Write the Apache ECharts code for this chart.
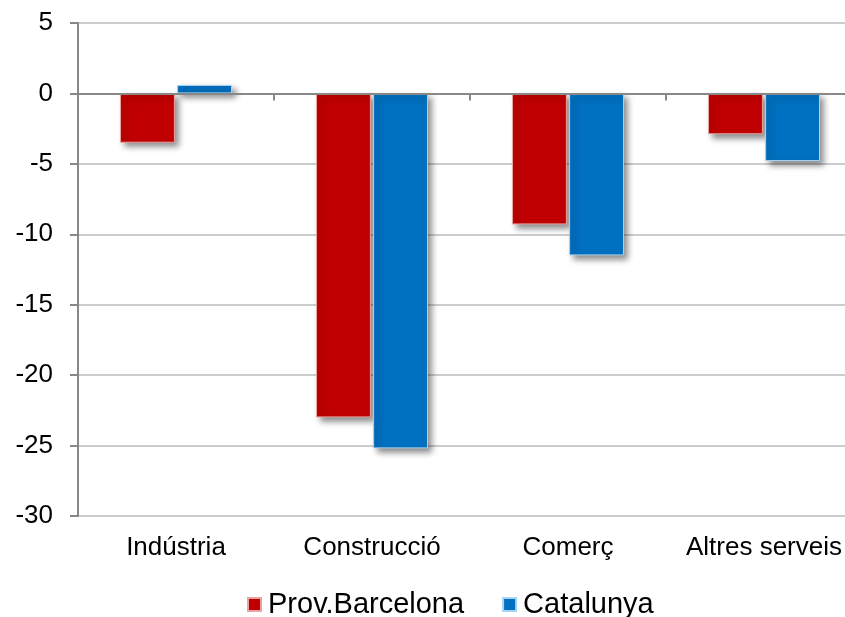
<!DOCTYPE html>
<html>
<head>
<meta charset="utf-8">
<script src="https://cdn.jsdelivr.net/npm/echarts@6/dist/echarts.min.js"></script>
<style>
html,body{margin:0;padding:0;background:#fff;overflow:hidden;width:845px;height:617px;}
#chart{width:870px;height:617px;}
</style>
</head>
<body>
<div id="chart"></div>
<script>
const categories = ['Indústria', 'Construcció', 'Comerç', 'Altres serveis'];
const provBarcelona = [-3.5, -23.0, -9.3, -2.9];
const catalunya = [0.6, -25.2, -11.5, -4.8];
const seriesNames = ['Prov.Barcelona', 'Catalunya'];
const yTicks = { min: -30, max: 5, interval: 5 };

const FONT = '"Liberation Sans", Arial, sans-serif';
const chart = echarts.init(document.getElementById('chart'), null, { renderer: 'canvas' });

function barStyle(color, border) {
  return {
    color: color,
    borderColor: border,
    borderWidth: 1,
    shadowColor: 'rgba(0,0,0,0.45)',
    shadowBlur: 6,
    shadowOffsetX: 4,
    shadowOffsetY: 4
  };
}

chart.setOption({
  animation: false,
  backgroundColor: '#ffffff',
  textStyle: { fontFamily: FONT },
  grid: { left: 78, right: 8, top: 23, bottom: 101, containLabel: false },
  legend: {
    left: 247,
    top: 590,
    padding: 0,
    itemWidth: 13,
    itemHeight: 13,
    itemGap: 38,
    icon: 'rect',
    textStyle: { fontSize: 29, color: '#000', fontFamily: FONT, padding: [0, 0, 0, 2] },
    data: seriesNames
  },
  xAxis: [
    {
      type: 'category',
      data: categories,
      position: 'bottom',
      axisLine: { show: true, onZero: true, lineStyle: { color: '#888888', width: 2 } },
      axisTick: { show: true, length: 7, alignWithLabel: false, lineStyle: { color: '#888888', width: 2 } },
      axisLabel: { show: false },
      splitLine: { show: false },
      z: 5
    },
    {
      type: 'category',
      data: categories,
      position: 'bottom',
      axisLine: { show: false, onZero: false },
      axisTick: { show: false },
      axisLabel: { show: true, interval: 0, fontSize: 26, color: '#000', fontFamily: FONT, margin: 19 },
      splitLine: { show: false }
    }
  ],
  yAxis: {
    type: 'value',
    min: yTicks.min,
    max: yTicks.max,
    interval: yTicks.interval,
    axisLine: { show: true, onZero: false, lineStyle: { color: '#888888', width: 2 } },
    axisTick: { show: true, length: 8, lineStyle: { color: '#888888', width: 2 } },
    axisLabel: { fontSize: 26, color: '#000', fontFamily: FONT, margin: 25 },
    splitLine: { show: true, lineStyle: { color: '#cccccc', width: 2 } }
  },
  series: [
    {
      name: seriesNames[0],
      type: 'bar',
      data: provBarcelona,
      barWidth: '28%',
      barGap: '4%',
      itemStyle: barStyle('#C00000', '#e9a3a3')
    },
    {
      name: seriesNames[1],
      type: 'bar',
      data: catalunya,
      barWidth: '28%',
      barGap: '4%',
      itemStyle: barStyle('#0070C0', '#a8d4f2')
    }
  ]
});
</script>
</body>
</html>
